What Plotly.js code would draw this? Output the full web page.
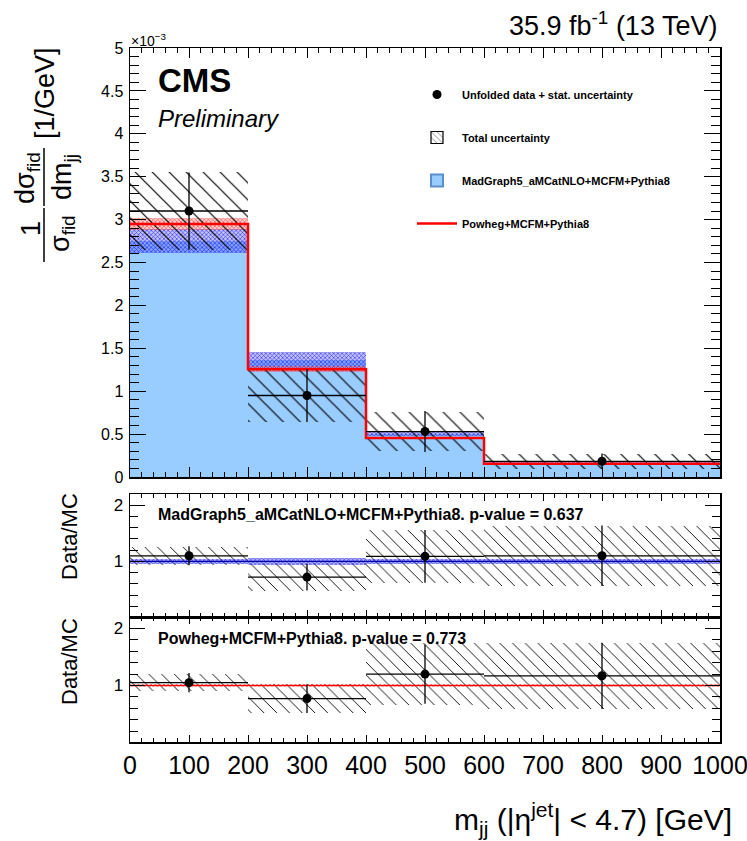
<!DOCTYPE html>
<html><head><meta charset="utf-8">
<script src="https://cdn.plot.ly/plotly-3.0.1.min.js"></script>
<style>html,body{margin:0;padding:0;background:#fff}#chart{width:747px;height:841px}</style>
</head><body><div id="chart"></div><script>
// ---------- data (top panel values in units of 1e-3 / GeV) ----------
const binEdges = [0, 200, 400, 600, 1000];
const binCenters = [100, 300, 500, 800];
const binHalfWidths = [100, 100, 100, 200];

const dataVals = [3.10, 0.95, 0.53, 0.183];
const dataStat = [0.45, 0.31, 0.24, 0.09];
const dataTotal = [0.46, 0.31, 0.23, 0.085];

const mgVals = [2.75, 1.365, 0.50, 0.167];
const mgUnc = [0.14, 0.095, 0.02, 0.01];

const powhegVals = [2.95, 1.255, 0.455, 0.155];
const powhegUnc = [0.07, 0.035, 0.012, 0.005];

// ratio data / MadGraph
const ratioMG = [1.10, 0.72, 1.09, 1.10];
const ratioMGStat = [0.17, 0.24, 0.47, 0.54];
const ratioMGTotal = [0.165, 0.25, 0.47, 0.53];
const mgRelUnc = [0.05, 0.06, 0.05, 0.05];

// ratio data / Powheg
const ratioPW = [1.05, 0.77, 1.20, 1.17];
const ratioPWStat = [0.17, 0.25, 0.52, 0.58];
const ratioPWTotal = [0.15, 0.25, 0.55, 0.58];
const pwRelUnc = [0.02, 0.02, 0.02, 0.02];

const mcRatio = [1, 1, 1, 1];

const xTickVals = [0, 100, 200, 300, 400, 500, 600, 700, 800, 900, 1000];

// ---------- layout helpers ----------
const L = 130, T = 48, W = 590, H = 694;
const px = x => (x - L) / W;
const py = y => (T + H - y) / H;
const FONT = 'Liberation Sans, Arial, Helvetica, sans-serif';
const widths = binHalfWidths.map(h => 2 * h);
const step = arr => arr.concat([arr[arr.length - 1]]);
const hatch = size => ({shape: '\\', fgcolor: '#000', bgcolor: 'rgba(0,0,0,0)', size: size, solidity: 0.1});

const traces = [];
// ----- top panel -----
traces.push({type: 'bar', x: binCenters, y: mgVals, width: widths, base: 0,
  marker: {color: '#99ccff', line: {width: 0}}, showlegend: false, xaxis: 'x', yaxis: 'y'});
traces.push({type: 'bar', x: binCenters, y: mgUnc.map(u => 2 * u), width: widths,
  base: mgVals.map((v, i) => v - mgUnc[i]),
  marker: {color: 'rgba(40,40,255,0.45)', line: {width: 0},
    pattern: {shape: 'x', fgcolor: 'rgba(0,0,230,0.8)', bgcolor: 'rgba(80,80,255,0.35)', size: 3, solidity: 0.35}},
  showlegend: false, xaxis: 'x', yaxis: 'y'});
traces.push({type: 'bar', x: binCenters, y: powhegUnc.map(u => 2 * u), width: widths,
  base: powhegVals.map((v, i) => v - powhegUnc[i]),
  marker: {color: 'rgba(255,60,60,0.45)', line: {width: 0},
    pattern: {shape: 'x', fgcolor: 'rgba(240,0,0,0.7)', bgcolor: 'rgba(255,120,120,0.35)', size: 3, solidity: 0.35}},
  showlegend: false, xaxis: 'x', yaxis: 'y'});
traces.push({type: 'bar', x: binCenters, y: dataTotal.map(u => 2 * u), width: widths,
  base: dataVals.map((v, i) => v - dataTotal[i]),
  marker: {color: 'rgba(0,0,0,0)', line: {width: 0}, pattern: hatch(12)},
  showlegend: false, xaxis: 'x', yaxis: 'y'});
// legend-only swatches
traces.push({type: 'bar', x: [null], y: [null], name: 'Total uncertainty', legendrank: 2, legendgroup: 'b',
  marker: {color: 'rgba(0,0,0,0)', line: {width: 1.2, color: '#000'}, pattern: hatch(5)}, xaxis: 'x', yaxis: 'y'});
traces.push({type: 'bar', x: [null], y: [null], name: 'MadGraph5_aMCatNLO+MCFM+Pythia8', legendrank: 3, legendgroup: 'c',
  marker: {color: '#99ccff', line: {width: 2, color: '#5b8fcc'}}, xaxis: 'x', yaxis: 'y'});
traces.push({type: 'scatter', mode: 'lines', x: binEdges, y: step(powhegVals), line: {shape: 'hv', color: '#ff0000', width: 2.5},
  name: 'Powheg+MCFM+Pythia8', legendrank: 4, legendgroup: 'd', xaxis: 'x', yaxis: 'y'});
traces.push({type: 'scatter', mode: 'markers', x: binCenters, y: dataVals,
  marker: {color: '#000', size: 9},
  error_y: {type: 'data', array: dataStat, color: '#000', thickness: 1.3, width: 0},
  error_x: {type: 'data', array: binHalfWidths, color: '#000', thickness: 1.3, width: 0},
  name: 'Unfolded data + stat. uncertainty', legendrank: 1, legendgroup: 'a', xaxis: 'x', yaxis: 'y'});

// ----- ratio panel 1 (data / MadGraph) -----
traces.push({type: 'bar', x: binCenters, y: ratioMGTotal.map(u => 2 * u), width: widths,
  base: ratioMG.map((v, i) => v - ratioMGTotal[i]),
  marker: {color: 'rgba(0,0,0,0)', line: {width: 0}, pattern: hatch(9)}, showlegend: false, xaxis: 'x2', yaxis: 'y2'});
traces.push({type: 'bar', x: binCenters, y: mgRelUnc.map(u => 2 * u), width: widths,
  base: mcRatio.map((v, i) => v - mgRelUnc[i]),
  marker: {color: 'rgba(40,40,255,0.5)', line: {width: 0},
    pattern: {shape: 'x', fgcolor: 'rgba(0,0,230,0.85)', bgcolor: 'rgba(90,90,255,0.45)', size: 3, solidity: 0.35}},
  showlegend: false, xaxis: 'x2', yaxis: 'y2'});
traces.push({type: 'scatter', mode: 'lines', x: binEdges, y: step(mcRatio), line: {shape: 'hv', color: '#0000aa', width: 1.2},
  showlegend: false, xaxis: 'x2', yaxis: 'y2'});
traces.push({type: 'scatter', mode: 'markers', x: binCenters, y: ratioMG, marker: {color: '#000', size: 9},
  error_y: {type: 'data', array: ratioMGStat, color: '#000', thickness: 1.3, width: 0},
  error_x: {type: 'data', array: binHalfWidths, color: '#000', thickness: 1.3, width: 0},
  showlegend: false, xaxis: 'x2', yaxis: 'y2'});

// ----- ratio panel 2 (data / Powheg) -----
traces.push({type: 'bar', x: binCenters, y: ratioPWTotal.map(u => 2 * u), width: widths,
  base: ratioPW.map((v, i) => v - ratioPWTotal[i]),
  marker: {color: 'rgba(0,0,0,0)', line: {width: 0}, pattern: hatch(9)}, showlegend: false, xaxis: 'x3', yaxis: 'y3'});
traces.push({type: 'bar', x: binCenters, y: pwRelUnc.map(u => 2 * u), width: widths,
  base: mcRatio.map((v, i) => v - pwRelUnc[i]),
  marker: {color: 'rgba(255,60,60,0.45)', line: {width: 0},
    pattern: {shape: 'x', fgcolor: 'rgba(240,0,0,0.75)', bgcolor: 'rgba(255,120,120,0.35)', size: 3, solidity: 0.35}},
  showlegend: false, xaxis: 'x3', yaxis: 'y3'});
traces.push({type: 'scatter', mode: 'lines', x: binEdges, y: step(mcRatio), line: {shape: 'hv', color: '#ff0000', width: 1.2},
  showlegend: false, xaxis: 'x3', yaxis: 'y3'});
traces.push({type: 'scatter', mode: 'markers', x: binCenters, y: ratioPW, marker: {color: '#000', size: 9},
  error_y: {type: 'data', array: ratioPWStat, color: '#000', thickness: 1.3, width: 0},
  error_x: {type: 'data', array: binHalfWidths, color: '#000', thickness: 1.3, width: 0},
  showlegend: false, xaxis: 'x3', yaxis: 'y3'});

// ---------- axes ----------
const xBase = (len, mlen) => ({range: [0, 1000], tickmode: 'array', tickvals: xTickVals, ticks: 'inside', ticklen: len, tickwidth: 1,
  tickcolor: '#000', minor: {dtick: 20, tick0: 0, ticks: 'inside', ticklen: mlen, tickwidth: 1, tickcolor: '#000'},
  showline: true, linecolor: '#000', linewidth: 1.5, mirror: 'allticks', showgrid: false, zeroline: false, fixedrange: true});
const yBase = (len, mlen, dtick, mdtick) => ({tickmode: 'linear', tick0: 0, dtick: dtick, ticks: 'inside', ticklen: len, tickwidth: 1,
  tickcolor: '#000', minor: {dtick: mdtick, tick0: 0, ticks: 'inside', ticklen: mlen, tickwidth: 1, tickcolor: '#000'},
  showline: true, linecolor: '#000', linewidth: 1.5, mirror: 'allticks', showgrid: false, zeroline: false, fixedrange: true,
  tickfont: {family: FONT, size: 16, color: '#000'}, ticklabelstandoff: 2});

const layout = {
  width: 747, height: 841,
  margin: {l: L, r: 747 - L - W, t: T, b: 841 - T - H, pad: 0},
  paper_bgcolor: '#fff', plot_bgcolor: 'rgba(0,0,0,0)',
  barmode: 'overlay', bargap: 0, hovermode: false,
  font: {family: FONT, color: '#000'},
  showlegend: true,
  legend: {x: px(412), y: py(80), xanchor: 'left', yanchor: 'top', bgcolor: 'rgba(0,0,0,0)',
    font: {family: FONT, size: 11, color: '#000', weight: 'bold'}, traceorder: 'grouped', tracegroupgap: 24, itemwidth: 40},
  xaxis: Object.assign(xBase(10, 5), {domain: [0, 1], anchor: 'y', showticklabels: false}),
  yaxis: Object.assign(yBase(16, 9, 0.5, 0.1), {domain: [py(477), 1], range: [0, 5], anchor: 'x'}),
  xaxis2: Object.assign(xBase(7, 4), {domain: [0, 1], anchor: 'y2', showticklabels: false, matches: 'x'}),
  yaxis2: Object.assign(yBase(15, 8, 1, 0.2), {domain: [py(617), py(494)], range: [0.01, 2.2], anchor: 'x2', tickfont: {family: FONT, size: 17, color: '#000'}}),
  xaxis3: Object.assign(xBase(7, 4), {domain: [0, 1], anchor: 'y3', showticklabels: true, matches: 'x',
    tickfont: {family: FONT, size: 25, color: '#000'}, ticklabelstandoff: 0, ticklabeloverflow: 'allow'}),
  yaxis3: Object.assign(yBase(15, 8, 1, 0.2), {domain: [0, py(617)], range: [0.01, 2.2], anchor: 'x3', tickfont: {family: FONT, size: 17, color: '#000'}}),
  annotations: [],
  shapes: []
};

const ann = (text, x, y, size, opts) => Object.assign({text: text, x: px(x), y: py(y), xref: 'paper', yref: 'paper',
  showarrow: false, xanchor: 'center', yanchor: 'middle', font: {family: FONT, size: size, color: '#000'}}, opts || {});

layout.annotations.push(ann('35.9 fb<sup>-1</sup> (13 TeV)', 719, 24, 27, {xanchor: 'right'}));
layout.annotations.push(ann('×10<sup>−3</sup>', 129, 40, 14, {xanchor: 'left'}));
layout.annotations.push(ann('<b>CMS</b>', 156, 80, 33, {xanchor: 'left'}));
layout.annotations.push(ann('<i>Preliminary</i>', 156, 118, 24, {xanchor: 'left'}));
layout.annotations.push(ann('<b>MadGraph5_aMCatNLO+MCFM+Pythia8. p-value = 0.637</b>', 156, 514, 16, {xanchor: 'left'}));
layout.annotations.push(ann('<b>Powheg+MCFM+Pythia8. p-value = 0.773</b>', 156, 638, 16, {xanchor: 'left'}));
layout.annotations.push(ann('Data/MC', 69, 537, 22, {textangle: -90}));
layout.annotations.push(ann('Data/MC', 69, 662, 22, {textangle: -90}));
layout.annotations.push(ann('m<sub>jj</sub> (|η<sup>jet</sup>| < 4.7) [GeV]', 734, 819, 30, {xanchor: 'right'}));
// y-axis title built as two stacked fractions
layout.annotations.push(ann('1', 31, 229, 27, {textangle: -90}));
layout.annotations.push(ann('σ<sub>fid</sub>', 62, 234, 27, {textangle: -90}));
layout.annotations.push(ann('dσ<sub>fid</sub>', 27, 178, 27, {textangle: -90}));
layout.annotations.push(ann('dm<sub>jj</sub>', 64, 177, 27, {textangle: -90}));
layout.annotations.push(ann('[1/GeV]', 45, 93, 27, {textangle: -90}));
layout.shapes.push({type: 'line', xref: 'paper', yref: 'paper', x0: px(44), x1: px(44), y0: py(208), y1: py(262), line: {color: '#000', width: 1.5}});
layout.shapes.push({type: 'line', xref: 'paper', yref: 'paper', x0: px(44), x1: px(44), y0: py(148), y1: py(206), line: {color: '#000', width: 1.5}});

Plotly.newPlot('chart', traces, layout, {displayModeBar: false, staticPlot: true});
</script></body></html>
